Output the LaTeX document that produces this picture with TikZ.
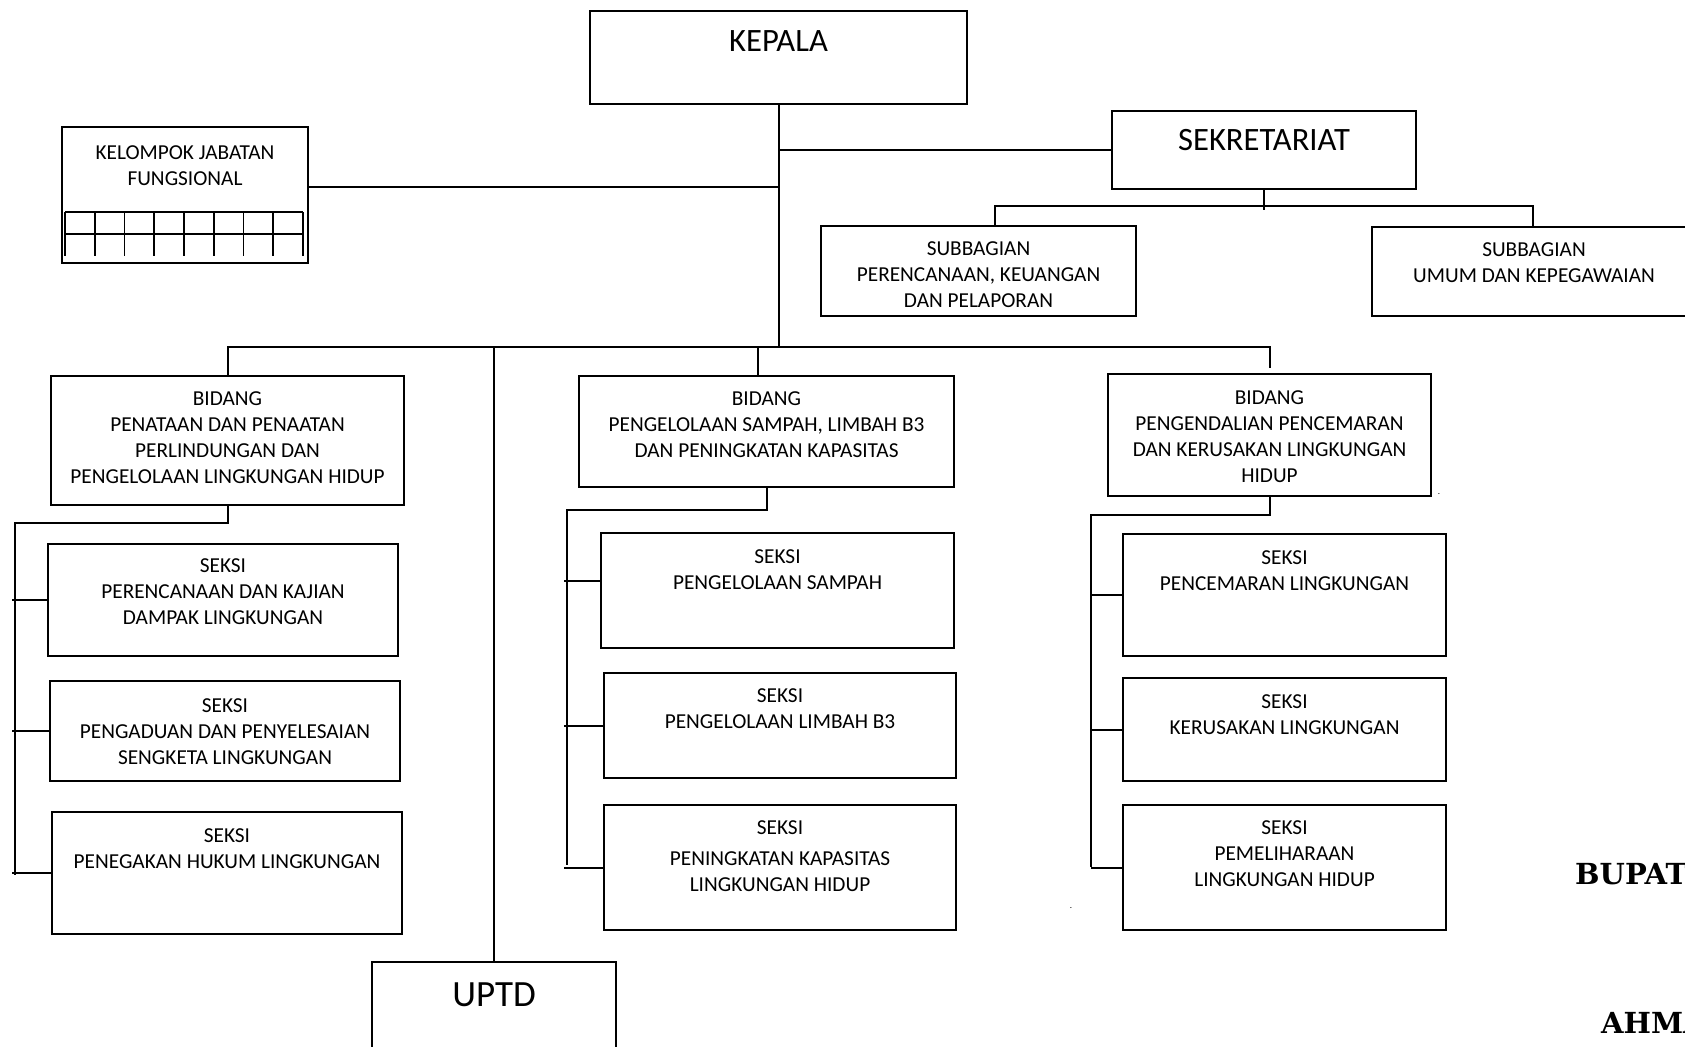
\documentclass[tikz,border=0pt]{standalone}
\usepackage{fontspec}
\setmainfont{Carlito}
\newfontfamily\signfont{DejaVu Serif}
\tikzset{
unit/.style={draw, line width=1.2pt, inner sep=0pt},
caption/.style={align=center, inner sep=0pt, anchor=north, yshift=1pt,
  font=\fontsize{21.3}{26}\selectfont},
title/.style={inner sep=0pt, font=\fontsize{32.6}{38}\selectfont},
link/.style={line width=2pt},
tick/.style={line width=2pt, shorten >=-3pt},
sign/.style={inner sep=0pt, anchor=west, font=\signfont\bfseries\fontsize{29}{34}\selectfont}
}

\begin{document}
\begin{tikzpicture}[x=1pt, y=-1pt]
\clip (0,0) rectangle (1685,1046);
\fill[white] (0,0) rectangle (1685,1046);
% top level
\node[unit, minimum width=377pt, minimum height=93pt] (kepala) at (778.5,57.5) {};
\node[title] (kepala-t) at (778.5,41) {KEPALA};
\node[unit, minimum width=304pt, minimum height=78pt] (sekr) at (1264,150) {};
\node[title] (sekr-t) at (1264,140) {SEKRETARIAT};
\node[unit, minimum width=246pt, minimum height=136pt] (kjf) at (185,195) {};
\node[caption] (kjf-t) at (185,146) {KELOMPOK JABATAN\\FUNGSIONAL};
\foreach \i in {0,...,8}
  \draw[line width=1.8pt] ({65+29.75*\i},212) -- ({65+29.75*\i},256);
\draw[line width=1.8pt] (65,212) -- (303,212) (65,234) -- (303,234);
\node[unit, minimum width=315pt, minimum height=90pt] (sub1) at (978.5,271) {};
\node[caption] (sub1-t) at (978.5,242) {SUBBAGIAN\\PERENCANAAN, KEUANGAN\\DAN PELAPORAN};
\node[unit, minimum width=322pt, minimum height=89pt] (sub2) at (1533,271.5) {};
\node[caption] (sub2-t) at (1534,243) {SUBBAGIAN\\UMUM DAN KEPEGAWAIAN};
% bidang
\node[unit, minimum width=353pt, minimum height=129pt] (bid1) at (227.5,440.5) {};
\node[caption] (bid1-t) at (227.5,392) {BIDANG\\PENATAAN DAN PENAATAN\\PERLINDUNGAN DAN\\PENGELOLAAN LINGKUNGAN HIDUP};
\node[unit, minimum width=375pt, minimum height=111pt] (bid2) at (766.5,431.5) {};
\node[caption] (bid2-t) at (766.5,392) {BIDANG\\PENGELOLAAN SAMPAH, LIMBAH B3\\DAN PENINGKATAN KAPASITAS};
\node[unit, minimum width=323pt, minimum height=122pt] (bid3) at (1269.5,435) {};
\node[caption] (bid3-t) at (1269.5,391) {BIDANG\\PENGENDALIAN PENCEMARAN\\DAN KERUSAKAN LINGKUNGAN\\HIDUP};
\node[unit, minimum width=244pt, minimum height=88pt] (uptd) at (494,1006) {};
\node[title, font=\fontsize{37}{42}\selectfont] (uptd-t) at (494,995) {UPTD};
% seksi
\node[unit, minimum width=350pt, minimum height=112pt] (s1) at (223,600) {};
\node[caption] (s1-t) at (223,559) {SEKSI\\PERENCANAAN DAN KAJIAN\\DAMPAK LINGKUNGAN};
\node[unit, minimum width=350pt, minimum height=100pt] (s2) at (225,731) {};
\node[caption] (s2-t) at (225,699) {SEKSI\\PENGADUAN DAN PENYELESAIAN\\SENGKETA LINGKUNGAN};
\node[unit, minimum width=350pt, minimum height=122pt] (s3) at (227,873) {};
\node[caption] (s3-t) at (227,829) {SEKSI\\PENEGAKAN HUKUM LINGKUNGAN};
\node[unit, minimum width=353pt, minimum height=115pt] (s4) at (777.5,590.5) {};
\node[caption] (s4-t) at (777.5,550) {SEKSI\\PENGELOLAAN SAMPAH};
\node[unit, minimum width=352pt, minimum height=105pt] (s5) at (780,725.5) {};
\node[caption] (s5-t) at (780,689) {SEKSI\\PENGELOLAAN LIMBAH B3};
\node[unit, minimum width=352pt, minimum height=125pt] (s6) at (780,867.5) {};
\node[caption] (s6-t) at (780,821) {SEKSI\\[5pt]PENINGKATAN KAPASITAS\\LINGKUNGAN HIDUP};
\node[unit, minimum width=323pt, minimum height=122pt] (s7) at (1284.5,595) {};
\node[caption] (s7-t) at (1284.5,551) {SEKSI\\PENCEMARAN LINGKUNGAN};
\node[unit, minimum width=323pt, minimum height=103pt] (s8) at (1284.5,729.5) {};
\node[caption] (s8-t) at (1284.5,695) {SEKSI\\KERUSAKAN LINGKUNGAN};
\node[unit, minimum width=323pt, minimum height=125pt] (s9) at (1284.5,867.5) {};
\node[caption] (s9-t) at (1284.5,821) {SEKSI\\PEMELIHARAAN\\LINGKUNGAN HIDUP};
% connectors
\coordinate (bus) at (780,347);
\coordinate (subbus) at (1264,206);
\coordinate (kjf-out) at ([yshift=8pt]kjf.east);
\draw[link] (kepala.south) -- (kepala.south |- bus);
\draw[link] (kjf-out) -- (kepala.south |- kjf-out);
\draw[link] (sekr.west) -- (kepala.south |- sekr.west);
\draw[link] (sekr.south) -- ++(0,20);
\draw[link] ([xshift=16pt]sub1.north) |- (subbus) -| (sub2.north);
\draw[link] (bid1.north) |- (bid3.north |- bus) -- ([yshift=5pt]bid3.north);
\draw[link] ([xshift=-9pt]bid2.north) -- ([xshift=-9pt]bid2.north |- bus);
\draw[link] (uptd.north) -- (uptd.north |- bus);
% seksi branches
\coordinate (trunk1) at (15,523);
\coordinate (trunk2) at (567,510);
\coordinate (trunk3) at (1091,515);
\draw[link] (bid1.south) |- (trunk1) -- (15,875);
\draw[link] (bid2.south) |- (trunk2) -- (567,865);
\draw[link] (bid3.south) |- (trunk3) -- (1091,867);
\foreach \s in {s1,s2,s3}
  \draw[tick] (\s.west) -- (\s.west -| trunk1);
\coordinate (s4-in) at ([yshift=10pt]s4.west);
\draw[tick] (s4-in) -- (s4-in -| trunk2);
\foreach \s in {s5,s6}
  \draw[tick] (\s.west) -- (\s.west -| trunk2);
\foreach \s in {s7,s8,s9}
  \draw[link] (\s.west) -- (\s.west -| trunk3);
% stray dots and signature
\node[inner sep=0pt, font=\small] (dot1) at (1439,494) {.};
\node[inner sep=0pt, font=\small] (dot2) at (1071,908) {.};
\node[sign] (bupati) at (1575,874) {BUPATI};
\node[sign] (nama) at (1601,1023) {AHMAD};
\end{tikzpicture}
\end{document}
